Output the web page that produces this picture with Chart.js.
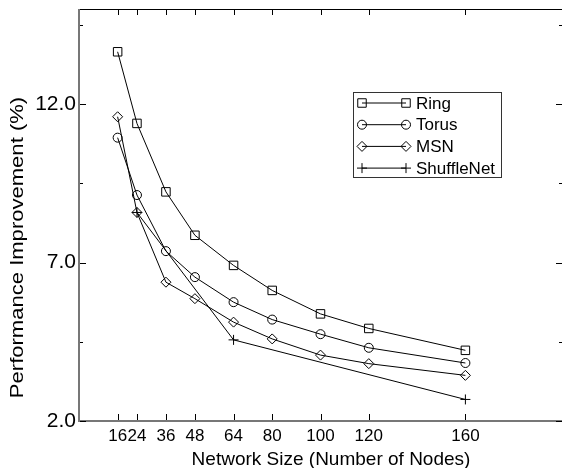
<!DOCTYPE html>
<html>
<head>
<meta charset="utf-8">
<script src="https://cdn.jsdelivr.net/npm/chart.js@4/dist/chart.umd.min.js"></script>
<style>
  html, body { margin: 0; padding: 0; background: #fff; }
  canvas { display: block; }
</style>
</head>
<body>
<canvas id="chart" width="569" height="468"></canvas>
<script>
// values
const sizes = [16, 24, 36, 48, 64, 80, 100, 120, 160];
const ring = [13.65, 11.39, 9.23, 7.86, 6.91, 6.12, 5.38, 4.92, 4.23];
const torus = [10.94, 9.13, 7.36, 6.54, 5.75, 5.20, 4.74, 4.31, 3.83];
const msn = [11.60, 8.58, 6.38, 5.86, 5.12, 4.59, 4.08, 3.81, 3.44];
const shuffleSizes = [24, 64, 160];
const shuffle = [8.58, 4.56, 2.68];

const xTicks = [16, 24, 36, 48, 64, 80, 100, 120, 160];
const yTicks = [2.0, 4.5, 7.0, 9.5, 12.0, 14.5];
const yLabelled = [2.0, 7.0, 12.0];

const xTitle = "Network Size (Number of Nodes)";
const yTitle = "Performance Improvement (%)";
const FONT = "'Liberation Sans', Arial, Helvetica, sans-serif";

const pts = (xs, ys) => xs.map((x, i) => ({ x, y: ys[i] }));

function series(label, data, pointStyle, radius) {
  return {
    label, data, pointStyle,
    pointRadius: radius,
    borderColor: "#000",
    borderWidth: 1,
    pointBorderColor: "#000",
    pointBackgroundColor: "rgba(0,0,0,0)",
    pointBorderWidth: 1,
    tension: 0,
    clip: false,
  };
}

// frame with inward ticks, titles and the boxed legend
const decor = {
  id: "decor",
  afterDraw(chart) {
    const { ctx, chartArea: a, scales: { x, y } } = chart;
    ctx.save();

    ctx.strokeStyle = "#000";
    ctx.lineWidth = 1;
    ctx.beginPath();
    ctx.moveTo(a.left, a.top + 0.5); ctx.lineTo(a.right, a.top + 0.5);
    ctx.stroke();

    ctx.strokeStyle = "#777";
    ctx.lineWidth = 2;
    ctx.beginPath();
    ctx.moveTo(a.left, a.top); ctx.lineTo(a.left, a.bottom);
    ctx.lineTo(a.right, a.bottom);
    ctx.stroke();

    ctx.strokeStyle = "#000";
    ctx.lineWidth = 1;
    ctx.beginPath();
    for (const v of xTicks) {
      const px = Math.round(x.getPixelForValue(v)) + 0.5;
      ctx.moveTo(px, a.bottom - 1); ctx.lineTo(px, a.bottom - 7);
      ctx.moveTo(px, a.top); ctx.lineTo(px, a.top + 6);
    }
    for (const v of yTicks) {
      const py = Math.round(y.getPixelForValue(v)) + 0.5;
      const len = yLabelled.includes(v) ? 6 : 3;
      ctx.moveTo(a.left + 1, py); ctx.lineTo(a.left + 1 + len, py);
      ctx.moveTo(a.right, py); ctx.lineTo(a.right - len, py);
    }
    ctx.stroke();

    // titles
    ctx.fillStyle = "#000";
    ctx.font = `19px ${FONT}`;
    ctx.textAlign = "center";
    ctx.textBaseline = "alphabetic";
    ctx.fillText(xTitle, 331, 465);

    ctx.save();
    ctx.translate(22.5, 247.5);
    ctx.rotate(-Math.PI / 2);
    ctx.scale(1.16, 1);
    ctx.font = `19px ${FONT}`;
    ctx.fillText(yTitle, 0, 0);
    ctx.restore();

    // legend
    const box = { l: 353.5, t: 92.5, r: 501.5, b: 177.5 };
    ctx.strokeStyle = "#333";
    ctx.lineWidth = 1;
    ctx.strokeRect(box.l, box.t, box.r - box.l, box.b - box.t);
    ctx.font = `17px ${FONT}`;
    ctx.textAlign = "left";
    ctx.textBaseline = "middle";
    chart.data.datasets.forEach((ds, i) => {
      const ry = 103 + i * 21.7;
      ctx.strokeStyle = "#000";
      ctx.beginPath();
      ctx.moveTo(362, ry); ctx.lineTo(406, ry);
      ctx.stroke();
      ctx.fillStyle = "rgba(0,0,0,0)";
      for (const mx of [362, 406]) {
        Chart.helpers.drawPoint(ctx, {
          pointStyle: ds.pointStyle, radius: ds.pointRadius,
          rotation: 0, borderWidth: 1,
        }, mx, ry);
      }
      ctx.fillStyle = "#000";
      ctx.fillText(ds.label, 416, ry + 1);
    });

    ctx.restore();
  },
};

new Chart(document.getElementById("chart"), {
  type: "line",
  data: {
    datasets: [
      series("Ring", pts(sizes, ring), "rect", 6),
      series("Torus", pts(sizes, torus), "circle", 4.5),
      series("MSN", pts(sizes, msn), "rectRot", 5),
      series("ShuffleNet", pts(shuffleSizes, shuffle), "cross", 5),
    ],
  },
  options: {
    responsive: false,
    animation: false,
    devicePixelRatio: 1,
    layout: { padding: { top: 9, left: 0, right: 0, bottom: 0 } },
    plugins: { legend: { display: false }, tooltip: { enabled: false } },
    scales: {
      x: {
        type: "linear",
        min: 0, max: 200,
        grid: { display: false, drawTicks: false },
        border: { display: false },
        afterBuildTicks: (s) => { s.ticks = xTicks.map((v) => ({ value: v })); },
        afterFit: (s) => { s.height = 47; s.paddingLeft = 0; s.paddingRight = 0; },
        ticks: {
          autoSkip: false, maxRotation: 0, padding: 5,
          color: "#000", font: { family: FONT, size: 17 },
          callback: (v) => String(v),
        },
      },
      y: {
        type: "linear",
        min: 2, max: 15,
        grid: { display: false, drawTicks: false },
        border: { display: false },
        afterBuildTicks: (s) => { s.ticks = yTicks.map((v) => ({ value: v })); },
        afterFit: (s) => { s.width = 79; s.paddingTop = 0; s.paddingBottom = 0; },
        ticks: {
          padding: 3,
          color: "#000", font: { family: FONT, size: 21 },
          callback: (v) => (yLabelled.includes(v) ? v.toFixed(1) : ""),
        },
      },
    },
  },
  plugins: [decor],
});
</script>
</body>
</html>
